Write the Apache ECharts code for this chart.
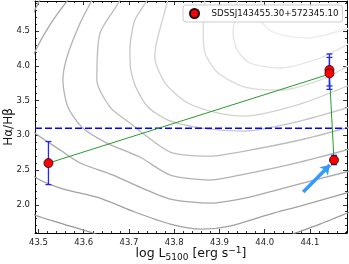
<!DOCTYPE html>
<html><head><meta charset="utf-8">
<script src="https://cdn.jsdelivr.net/npm/echarts@6/dist/echarts.min.js"></script>
<style>html,body{margin:0;padding:0;background:#fff}#c{width:349px;height:264px}</style>
</head><body><div id="c"></div>
<script>
// tick labels
const xMajor = [43.5, 43.6, 43.7, 43.8, 43.9, 44.0, 44.1];
const yMajor = [2.0, 2.5, 3.0, 3.5, 4.0, 4.5];
const xMinor = [43.52, 43.54, 43.56, 43.58, 43.62, 43.64, 43.66, 43.68, 43.72, 43.74, 43.76, 43.78,
  43.82, 43.84, 43.86, 43.88, 43.92, 43.94, 43.96, 43.98, 44.02, 44.04, 44.06, 44.08, 44.12, 44.14, 44.16, 44.18];
const yMinor = [1.6, 1.7, 1.8, 1.9, 2.1, 2.2, 2.3, 2.4, 2.6, 2.7, 2.8, 2.9, 3.1, 3.2, 3.3, 3.4,
  3.6, 3.7, 3.8, 3.9, 4.1, 4.2, 4.3, 4.4, 4.6, 4.7, 4.8, 4.9];
const xTitle = 'log L{sub|5100} [erg s{sup|−1}]';
const yTitle = 'Hα/Hβ';

// background contour lines (outer -> inner), [log L, Ha/Hb]
const contour1 = [[43.459,1.996],[43.492,1.853],[43.548,1.737],[43.620,1.594],[43.702,1.406],[43.857,1.291],[43.990,1.406],[44.056,1.565],[44.122,1.723],[44.188,1.896]];
const contour2 = [[43.514,5.090],[43.503,4.946],[43.492,4.802],[43.448,4.083],[43.437,3.219],[43.459,2.644],[43.492,2.399],[43.548,2.241],[43.636,2.097],[43.713,1.896],[43.791,1.723],[43.861,1.651],[43.923,1.694],[44.012,1.867],[44.078,1.982],[44.188,2.183]];
const contour3 = [[43.603,5.234],[43.565,4.946],[43.525,4.586],[43.492,4.198],[43.459,3.651],[43.464,3.219],[43.492,3.032],[43.548,2.788],[43.592,2.601],[43.665,2.428],[43.724,2.255],[43.791,2.083],[43.879,2.025],[43.956,2.097],[44.034,2.227],[44.188,2.486]];
const contour4 = [[43.636,5.234],[43.618,4.946],[43.592,4.615],[43.563,4.126],[43.554,3.795],[43.565,3.406],[43.598,3.104],[43.651,2.888],[43.724,2.687],[43.791,2.428],[43.879,2.356],[43.956,2.442],[44.078,2.615],[44.188,2.802]];
const contour5 = [[43.691,5.234],[43.680,4.946],[43.636,4.471],[43.629,3.795],[43.658,3.406],[43.702,3.176],[43.724,3.061],[43.791,2.759],[43.879,2.701],[43.956,2.773],[44.078,2.932],[44.188,3.119]];
const contour6 = [[43.751,5.234],[43.740,4.946],[43.713,4.658],[43.702,4.227],[43.704,3.939],[43.715,3.694],[43.742,3.406],[43.786,3.219],[43.861,3.104],[43.956,3.061],[44.078,3.205],[44.188,3.406]];
const contour7 = [[43.795,5.234],[43.786,4.946],[43.762,4.370],[43.757,4.126],[43.780,3.752],[43.830,3.464],[43.897,3.320],[43.956,3.277],[44.078,3.450],[44.188,3.723]];
const contour8 = [[43.872,5.234],[43.866,4.802],[43.864,4.514],[43.868,4.183],[43.897,3.896],[43.956,3.694],[44.034,3.651],[44.122,3.795],[44.188,4.011]];
const contour9 = [[43.945,5.234],[43.937,4.802],[43.930,4.471],[43.939,4.227],[43.967,4.040],[44.034,3.968],[44.122,4.112],[44.188,4.327]];
const contour10 = [[44.001,5.090],[43.985,4.730],[44.018,4.486],[44.093,4.399],[44.188,4.543]];
const contours = [contour1, contour2, contour3, contour4, contour5, contour6, contour7, contour8, contour9, contour10];
const contourColors = ['#9a9a9a','#a2a2a2','#a9a9a9','#b2b2b2','#bcbcbc','#c6c6c6','#d0d0d0','#dadada','#e3e3e3','#ebebeb'];

// object measurements
const objName = 'SDSSJ143455.30+572345.10';
const ptX = [43.522, 44.143, 44.143, 44.153];
const ptY = [2.60, 3.94, 3.89, 2.644];
const ptErr = [0.31, 0.23, 0.23, 0.067];
const pathX = [43.522, 44.143, 44.153];
const pathY = [2.60, 3.88, 2.644];
const threshold = 3.1;
const arrowFrom = [44.085, 2.183];
const arrowTo = [44.144, 2.572];

const xMin = 43.4923, xMax = 44.1818, yMin = 1.594, yMax = 4.932;

const font = 'DejaVu Sans';
function mkX(pos, vals, len, labels) {
  return {type:'value', position:pos, min:xMin, max:xMax,
    axisLine:{show:labels!==null, lineStyle:{color:'#000', width:1}},
    axisTick:{show:true, inside:true, length:len, customValues:vals, lineStyle:{color:'#000', width:0.8}},
    axisLabel:labels ? {show:true, customValues:vals, formatter:v=>v.toFixed(1), fontFamily:font, fontSize:8.5, color:'#222', margin:5} : {show:false},
    splitLine:{show:false}};
}
function mkY(pos, vals, len, labels) {
  return {type:'value', position:pos, min:yMin, max:yMax,
    axisLine:{show:labels!==null, lineStyle:{color:'#000', width:1}},
    axisTick:{show:true, inside:true, length:len, customValues:vals, lineStyle:{color:'#000', width:0.8}},
    axisLabel:labels ? {show:true, customValues:vals, formatter:v=>v.toFixed(1), fontFamily:font, fontSize:8.5, color:'#222', margin:5} : {show:false},
    splitLine:{show:false}};
}
const xAxes = [mkX('bottom', xMajor, 4, true), mkX('bottom', xMinor, 2, null), mkX('top', xMajor, 4, false), mkX('top', xMinor, 2, null)];
const yAxes = [mkY('left', yMajor, 4, true), mkY('left', yMinor, 2, null), mkY('right', yMajor, 4, false), mkY('right', yMinor, 2, null)];

const series = [];
contours.forEach((c, i) => {
  series.push({type:'line', data:c, xAxisIndex:0, yAxisIndex:0, showSymbol:false, symbol:'none', smooth:0.25, clip:true, silent:true, z:1,
    lineStyle:{color:contourColors[i], width:1.3}});
});
series.push({type:'line', data:[[xMin, threshold],[xMax, threshold]], showSymbol:false, symbol:'none', z:3, silent:true,
  lineStyle:{color:'#0000ff', width:1.5, type:[7,3]}});
series.push({type:'line', data:pathX.map((x,i)=>[x, pathY[i]]), showSymbol:false, symbol:'none', z:4, silent:true,
  lineStyle:{color:'#2a9a2a', width:1}});
series.push({type:'lines', coordinateSystem:'cartesian2d', xAxisIndex:0, yAxisIndex:0, z:5, silent:true,
  symbol:['none','arrow'], symbolSize:9, lineStyle:{color:'#3399ff', width:3.5, opacity:1},
  data:[{coords:[arrowFrom, arrowTo]}]});
series.push({type:'custom', z:6, silent:true, xAxisIndex:0, yAxisIndex:0,
  data:ptX.map((x,i)=>[x, ptY[i]-ptErr[i], ptY[i]+ptErr[i]]),
  encode:{x:0, y:[1,2]},
  renderItem:(params, api) => {
    const x = api.value(0);
    const a = api.coord([x, api.value(1)]);
    const b = api.coord([x, api.value(2)]);
    const w = 3;
    const st = {stroke:'#2525ff', lineWidth:1.3};
    return {type:'group', children:[
      {type:'line', shape:{x1:a[0], y1:a[1], x2:b[0], y2:b[1]}, style:st},
      {type:'line', shape:{x1:a[0]-w, y1:a[1], x2:a[0]+w, y2:a[1]}, style:st},
      {type:'line', shape:{x1:b[0]-w, y1:b[1], x2:b[0]+w, y2:b[1]}, style:st}
    ]};
  }});
series.push({type:'scatter', name:objName, data:ptX.map((x,i)=>[x, ptY[i]]), z:7, symbol:'circle', symbolSize:9,
  itemStyle:{color:'#ff0000', borderColor:'#200000', borderWidth:0.8, opacity:1}});

const chart = echarts.init(document.getElementById('c'), null, {renderer:'canvas'});
chart.setOption({
  animation:false,
  backgroundColor:'#fff',
  grid:{left:35, right:2, top:1, bottom:31, containLabel:false, outerBoundsMode:'none'},
  xAxis:xAxes, yAxis:yAxes,
  legend:{data:[objName], left:183, top:5, padding:[3,4,3,6], itemWidth:24, itemHeight:9, itemGap:5,
    icon:'circle', borderColor:'#cccccc', borderWidth:1, borderRadius:3, backgroundColor:'rgba(255,255,255,0.85)',
    textStyle:{fontFamily:font, fontSize:8.7, color:'#111'}},
  graphic:[
    {type:'text', x:191, y:254, silent:true, style:{text:xTitle, fontFamily:font, fontSize:12.5, fill:'#111', align:'center', verticalAlign:'middle',
      rich:{sub:{fontSize:9, fontFamily:font, fill:'#111', padding:[7,0,0,0]}, sup:{fontSize:9, fontFamily:font, fill:'#111', padding:[0,0,7,0]}}}},
    {type:'text', x:9, y:127, rotation:Math.PI/2, silent:true, style:{text:yTitle, fontFamily:font, fontSize:12, fill:'#111', align:'center', verticalAlign:'middle'}}
  ],
  series:series
});
</script></body></html>
